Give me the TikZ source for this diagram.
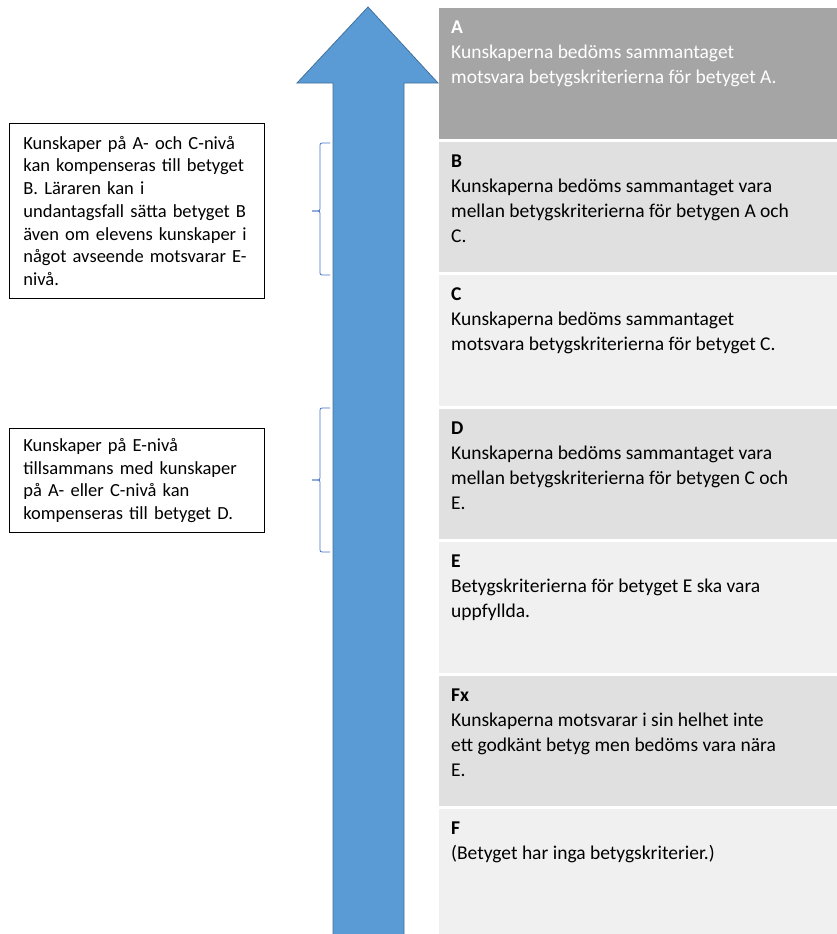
\documentclass[tikz,border=0pt]{standalone}
\usepackage{fontspec}
\setmainfont{Carlito}
\definecolor{arrowfill}{HTML}{5B9BD5}
\definecolor{arrowline}{HTML}{41719C}
\definecolor{gradeA}{HTML}{A5A5A5}
\definecolor{gradedark}{HTML}{E0E0E0}
\definecolor{gradelight}{HTML}{F0F0F0}
\definecolor{bracecol}{HTML}{4472C4}
\begin{document}
\begin{tikzpicture}[x=1pt,y=-1pt,
  gbox/.style={anchor=north west, minimum width=398pt, minimum height=130.5pt, inner sep=0pt, draw=none},
  gtext/.style={anchor=north west, align=left, inner sep=0pt, font=\fontsize{19.5}{25}\selectfont},
  lbox/.style={anchor=north west, draw=black, line width=0.8pt, text width=227pt, inner xsep=14pt, inner ysep=0pt, align=left, font=\fontsize{18.5}{22.7}\selectfont},
  bracestyle/.style={draw=bracecol, line width=0.8pt, rounded corners=2pt}]
\useasboundingbox (0,0) rectangle (837,934);
\clip (0,0) rectangle (837,934);
\fill[white] (0,0) rectangle (837,934);
% arrow
\filldraw[fill=arrowfill, draw=arrowline, line width=0.8pt]
  (333,940) -- (333,83) -- (297,83) -- (368,7) -- (438,83) -- (404,83) -- (404,940) -- cycle;
% grade boxes
\node[gbox, fill=gradeA]     (bA) at (439,8) {};
\node[gbox, fill=gradedark]  (bB) at (439,141.5) {};
\node[gbox, fill=gradelight] (bC) at (439,275) {};
\node[gbox, fill=gradedark]  (bD) at (439,408.5) {};
\node[gbox, fill=gradelight] (bE) at (439,542) {};
\node[gbox, fill=gradedark]  (bFx) at (439,675.5) {};
\node[gbox, fill=gradelight] (bF) at (439,809) {};
\node[gtext, text=white] (tA) at ([xshift=12pt,yshift=-8pt]bA.north west) {\strut\textbf{A}\\Kunskaperna bedöms sammantaget\\motsvara betygskriterierna för betyget A.};
\node[gtext] (tB) at ([xshift=12pt,yshift=-8pt]bB.north west) {\strut\textbf{B}\\Kunskaperna bedöms sammantaget vara\\mellan betygskriterierna för betygen A och\\C.};
\node[gtext] (tC) at ([xshift=12pt,yshift=-8pt]bC.north west) {\strut\textbf{C}\\Kunskaperna bedöms sammantaget\\motsvara betygskriterierna för betyget C.};
\node[gtext] (tD) at ([xshift=12pt,yshift=-8pt]bD.north west) {\strut\textbf{D}\\Kunskaperna bedöms sammantaget vara\\mellan betygskriterierna för betygen C och\\E.};
\node[gtext] (tE) at ([xshift=12pt,yshift=-8pt]bE.north west) {\strut\textbf{E}\\Betygskriterierna för betyget E ska vara\\uppfyllda.};
\node[gtext] (tFx) at ([xshift=12pt,yshift=-8pt]bFx.north west) {\strut\textbf{Fx}\\Kunskaperna motsvarar i sin helhet inte\\ett godkänt betyg men bedöms vara nära\\E.};
\node[gtext] (tF) at ([xshift=12pt,yshift=-8pt]bF.north west) {\strut\textbf{F}\\(Betyget har inga betygskriterier.)};
% left boxes
\node[lbox, minimum height=175pt] (n1) at (9,123) {Kunskaper på A- och C-nivå\\kan kompenseras till betyget\\B. Läraren kan i\\undantagsfall sätta betyget B\\även om elevens kunskaper i\\något avseende motsvarar E-\\nivå.};
\node[lbox, minimum height=104pt] (n2) at (9,428) {Kunskaper på E-nivå\\tillsammans med kunskaper\\på A- eller C-nivå kan\\kompenseras till betyget D.};
% braces
\coordinate (b1top) at (330,143);
\coordinate (b1mid) at (312,211);
\coordinate (b1bot) at (330,275);
\coordinate (b2top) at (330,408);
\coordinate (b2mid) at (312,480);
\coordinate (b2bot) at (330,552);
\draw[bracestyle] (b1top) -- (320,143) -- (320,211) -- (b1mid);
\draw[bracestyle] (b1mid) -- (320,211) -- (320,275) -- (b1bot);
\draw[bracestyle] (b2top) -- (320,408) -- (320,480) -- (b2mid);
\draw[bracestyle] (b2mid) -- (320,480) -- (320,552) -- (b2bot);
\end{tikzpicture}
\end{document}
